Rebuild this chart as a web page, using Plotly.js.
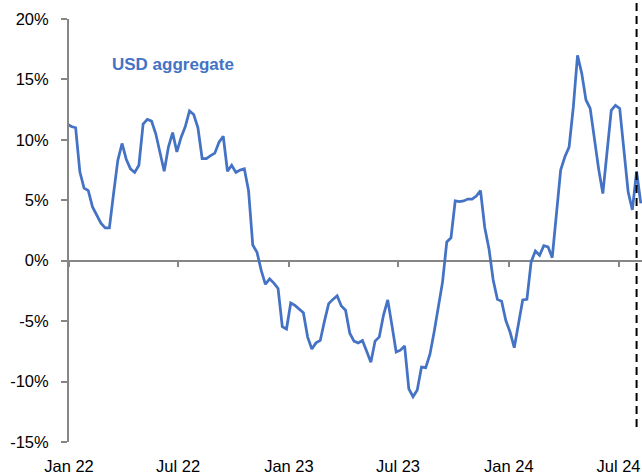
<!DOCTYPE html>
<html>
<head>
<meta charset="utf-8">
<script src="https://cdn.plot.ly/plotly-3.0.1.min.js"></script>
<style>html,body{margin:0;padding:0;background:#fff;}#chart{width:642px;height:473px;}</style>
</head>
<body>
<div id="chart"></div>
<script>
// ---- data (weekly observations, % y/y) ----
const seriesName = 'USD aggregate';
const startDate = '2021-12-29';
const values = [
  11.3, 11.1, 11.0, 7.35, 6.0, 5.8, 4.45, 3.75, 3.1, 2.72,
  2.72, 5.56, 8.3, 9.7, 8.4, 7.6, 7.3, 7.9, 11.3, 11.7,
  11.55, 10.5, 8.8, 7.4, 9.4, 10.6, 9.0, 10.2, 11.1, 12.4,
  12.1, 11.0, 8.45, 8.45, 8.7, 8.9, 9.8, 10.3, 7.4, 7.9,
  7.3, 7.5, 7.6, 5.8, 1.3, 0.7, -0.8, -1.95, -1.5, -1.85,
  -2.3, -5.45, -5.65, -3.5, -3.7, -4.0, -4.3, -6.3, -7.3, -6.8,
  -6.6, -5.0, -3.55, -3.2, -2.9, -3.75, -4.1, -6.0, -6.65, -6.8,
  -6.6, -7.5, -8.4, -6.65, -6.3, -4.5, -3.25, -5.35, -7.55, -7.4,
  -7.05, -10.6, -11.25, -10.7, -8.8, -8.85, -7.75, -5.9, -3.7, -1.75,
  1.55, 1.9, 4.95, 4.9, 4.95, 5.1, 5.1, 5.35, 5.8, 2.75,
  1.0, -1.6, -3.2, -3.35, -4.95, -5.9, -7.2, -5.35, -3.25, -3.2,
  -0.1, 0.8, 0.45, 1.25, 1.15, 0.25, 3.9, 7.5, 8.6, 9.4,
  12.7, 17.0, 15.5, 13.3, 12.6, 10.0, 7.6, 5.55, 8.85, 12.45,
  12.85, 12.6, 9.15, 5.7, 4.2, 7.4, 4.75
];
const xTickDates = ['2022-01-01','2022-07-01','2023-01-01','2023-07-01','2024-01-01','2024-07-01'];
const xTickLabels = ['Jan 22','Jul 22','Jan 23','Jul 23','Jan 24','Jul 24'];
const yTickVals = [-15, -10, -5, 0, 5, 10, 15, 20];
const yTickLabels = ['-15%','-10%','-5%','0%','5%','10%','15%','20%'];
const markerDate = '2024-07-31';
const xRange = ['2022-01-01', '2024-08-09'];
const yRange = [-15, 20];

// weekly date index
const dates = [];
(function(){
  const d0 = new Date(startDate + 'T00:00:00Z');
  for (let i = 0; i < values.length; i++) {
    const d = new Date(d0.getTime() + i * 7 * 86400000);
    dates.push(d.toISOString().slice(0, 10));
  }
})();

const blue = '#4472C4';
const grey = '#868686';
const fontFam = 'Liberation Sans, Arial, sans-serif';

const traces = [
  {
    x: dates, y: values, type: 'scatter', mode: 'lines', name: seriesName,
    line: {color: blue, width: 2.75}, hoverinfo: 'skip'
  },
  {
    x: dates, y: values, type: 'scatter', mode: 'lines', xaxis: 'x2', yaxis: 'y',
    line: {color: 'rgba(0,0,0,0)', width: 0}, opacity: 0, hoverinfo: 'skip', showlegend: false
  }
];

const zeroPos = (0 - yRange[0]) / (yRange[1] - yRange[0]);

const layout = {
  width: 642, height: 473,
  margin: {l: 69, r: 0, t: 19, b: 31, pad: 0},
  paper_bgcolor: '#fff', plot_bgcolor: '#fff',
  showlegend: false,
  font: {family: fontFam, size: 16.5, color: '#000'},
  xaxis: {
    type: 'date', range: xRange, showgrid: false, zeroline: false, showline: false,
    ticks: '', tickmode: 'array', tickvals: xTickDates, ticktext: xTickLabels,
    tickfont: {family: fontFam, size: 16.5, color: '#000'},
    ticklabelstandoff: 12, automargin: false, fixedrange: true
  },
  xaxis2: {
    type: 'date', range: xRange, overlaying: 'x', anchor: 'free', position: zeroPos,
    side: 'bottom', showgrid: false, zeroline: false,
    showline: true, linecolor: grey, linewidth: 2, layer: 'below traces',
    ticks: 'outside', ticklen: 5, tickwidth: 2, tickcolor: grey,
    tickmode: 'array', tickvals: xTickDates, showticklabels: false, automargin: false
  },
  yaxis: {
    range: yRange, showgrid: false, zeroline: false,
    showline: true, linecolor: grey, linewidth: 2,
    ticks: 'outside', ticklen: 6, tickwidth: 2, tickcolor: grey,
    tickmode: 'array', tickvals: yTickVals, ticktext: yTickLabels,
    tickfont: {family: fontFam, size: 16.5, color: '#000'},
    ticklabelstandoff: 9, automargin: false, fixedrange: true
  },
  shapes: [{
    type: 'line', xref: 'x', yref: 'paper', x0: markerDate, x1: markerDate,
    y0: 0.0355, y1: 1.05, layer: 'above',
    line: {color: '#000', width: 2, dash: '8px,5px'}
  }],
  annotations: [{
    xref: 'paper', yref: 'paper', x: 0.0716, y: 0.8913, xanchor: 'left', yanchor: 'middle',
    text: seriesName, showarrow: false,
    font: {family: fontFam, size: 17, color: blue, weight: 700}
  }]
};

Plotly.newPlot('chart', traces, layout, {staticPlot: true, displayModeBar: false});
</script>
</body>
</html>
